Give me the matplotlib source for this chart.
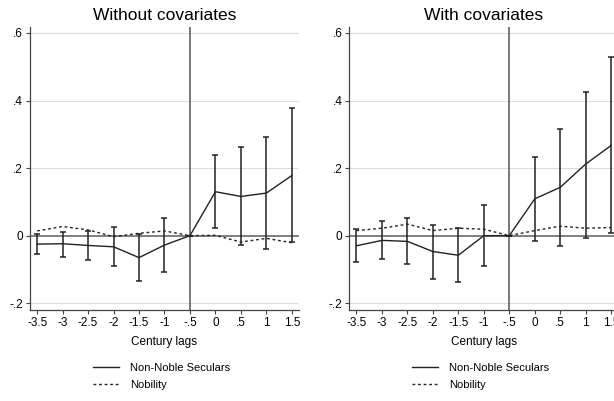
import matplotlib
matplotlib.use("Agg")
import matplotlib.pyplot as plt
from matplotlib.lines import Line2D

plt.rcParams["font.family"] = ["Liberation Sans", "DejaVu Sans"]

lags = [-3.5, -3, -2.5, -2, -1.5, -1, -0.5, 0, 0.5, 1, 1.5]
tick_labels = ["-3.5", "-3", "-2.5", "-2", "-1.5", "-1", "-.5", "0", ".5", "1", "1.5"]

# Without covariates
nn_wo = [-0.025, -0.024, -0.029, -0.033, -0.065, -0.028, 0.0, 0.130, 0.116, 0.126, 0.178]
nn_wo_hi = [0.004, 0.012, 0.015, 0.026, 0.004, 0.053, 0.0, 0.239, 0.262, 0.292, 0.379]
nn_wo_lo = [-0.053, -0.063, -0.071, -0.091, -0.134, -0.109, 0.0, 0.022, -0.028, -0.040, -0.020]
nob_wo = [0.014, 0.027, 0.017, -0.003, 0.007, 0.014, 0.0, 0.001, -0.019, -0.008, -0.021]

# With covariates
nn_w = [-0.030, -0.014, -0.017, -0.047, -0.058, 0.0, 0.0, 0.109, 0.143, 0.212, 0.267]
nn_w_hi = [0.020, 0.044, 0.051, 0.032, 0.022, 0.091, 0.0, 0.234, 0.315, 0.426, 0.528]
nn_w_lo = [-0.079, -0.069, -0.085, -0.127, -0.137, -0.089, 0.0, -0.015, -0.030, -0.006, 0.007]
nob_w = [0.015, 0.022, 0.034, 0.015, 0.022, 0.019, 0.0, 0.015, 0.028, 0.022, 0.024]

fig = plt.figure(figsize=(6.14, 4.01), dpi=100)
ax1 = fig.add_axes([0.0489, 0.227, 0.438, 0.706])
ax2 = fig.add_axes([0.569, 0.227, 0.438, 0.706])


def panel(ax, title, nn, hi, lo, nob):
    for v in [-0.2, 0.2, 0.4, 0.6]:
        ax.axhline(v, color="#dcdcdc", lw=0.8, zorder=0)
    ax.axhline(0, color="#7f7f7f", lw=1.4, zorder=1)
    ax.axvline(-0.5, color="#555555", lw=1.1, zorder=1)
    err_lo = [n - l for n, l in zip(nn, lo)]
    err_hi = [h - n for n, h in zip(nn, hi)]
    ax.errorbar(lags, nn, yerr=[err_lo, err_hi], fmt="none", ecolor="#222222",
                elinewidth=1.1, capsize=2.5, capthick=1.1, zorder=3)
    ax.plot(lags, nn, color="#222222", lw=1.0, zorder=4)
    ax.plot(lags, nob, color="#222222", lw=1.0, ls=(0, (2, 2)), zorder=4)
    ax.set_xlim(-3.64, 1.64)
    ax.set_ylim(-0.22, 0.618)
    ax.set_xticks(lags)
    ax.set_xticklabels(tick_labels)
    ax.set_yticks([-0.2, 0, 0.2, 0.4, 0.6])
    ax.set_yticklabels(["-.2", "0", ".2", ".4", ".6"])
    ax.tick_params(labelsize=8.5, length=3, width=0.8, color="#444444", pad=2)
    for s in ["top", "right"]:
        ax.spines[s].set_visible(False)
    for s in ["left", "bottom"]:
        ax.spines[s].set_color("#444444")
        ax.spines[s].set_linewidth(0.9)
    ax.set_title(title, fontsize=12.5, pad=5)
    ax.set_xlabel("Century lags", fontsize=8.5, labelpad=5)
    handles = [Line2D([], [], color="#222222", lw=1.0),
               Line2D([], [], color="#222222", lw=1.0, ls=(0, (2, 2)))]
    ax.legend(handles, ["Non-Noble Seculars", "Nobility"], loc="upper left",
              bbox_to_anchor=(0.197, -0.152), frameon=False, fontsize=8,
              handlelength=2.3, handletextpad=1.0, labelspacing=0.65)


panel(ax1, "Without covariates", nn_wo, nn_wo_hi, nn_wo_lo, nob_wo)
panel(ax2, "With covariates", nn_w, nn_w_hi, nn_w_lo, nob_w)

fig.savefig("out.png", dpi=100)
